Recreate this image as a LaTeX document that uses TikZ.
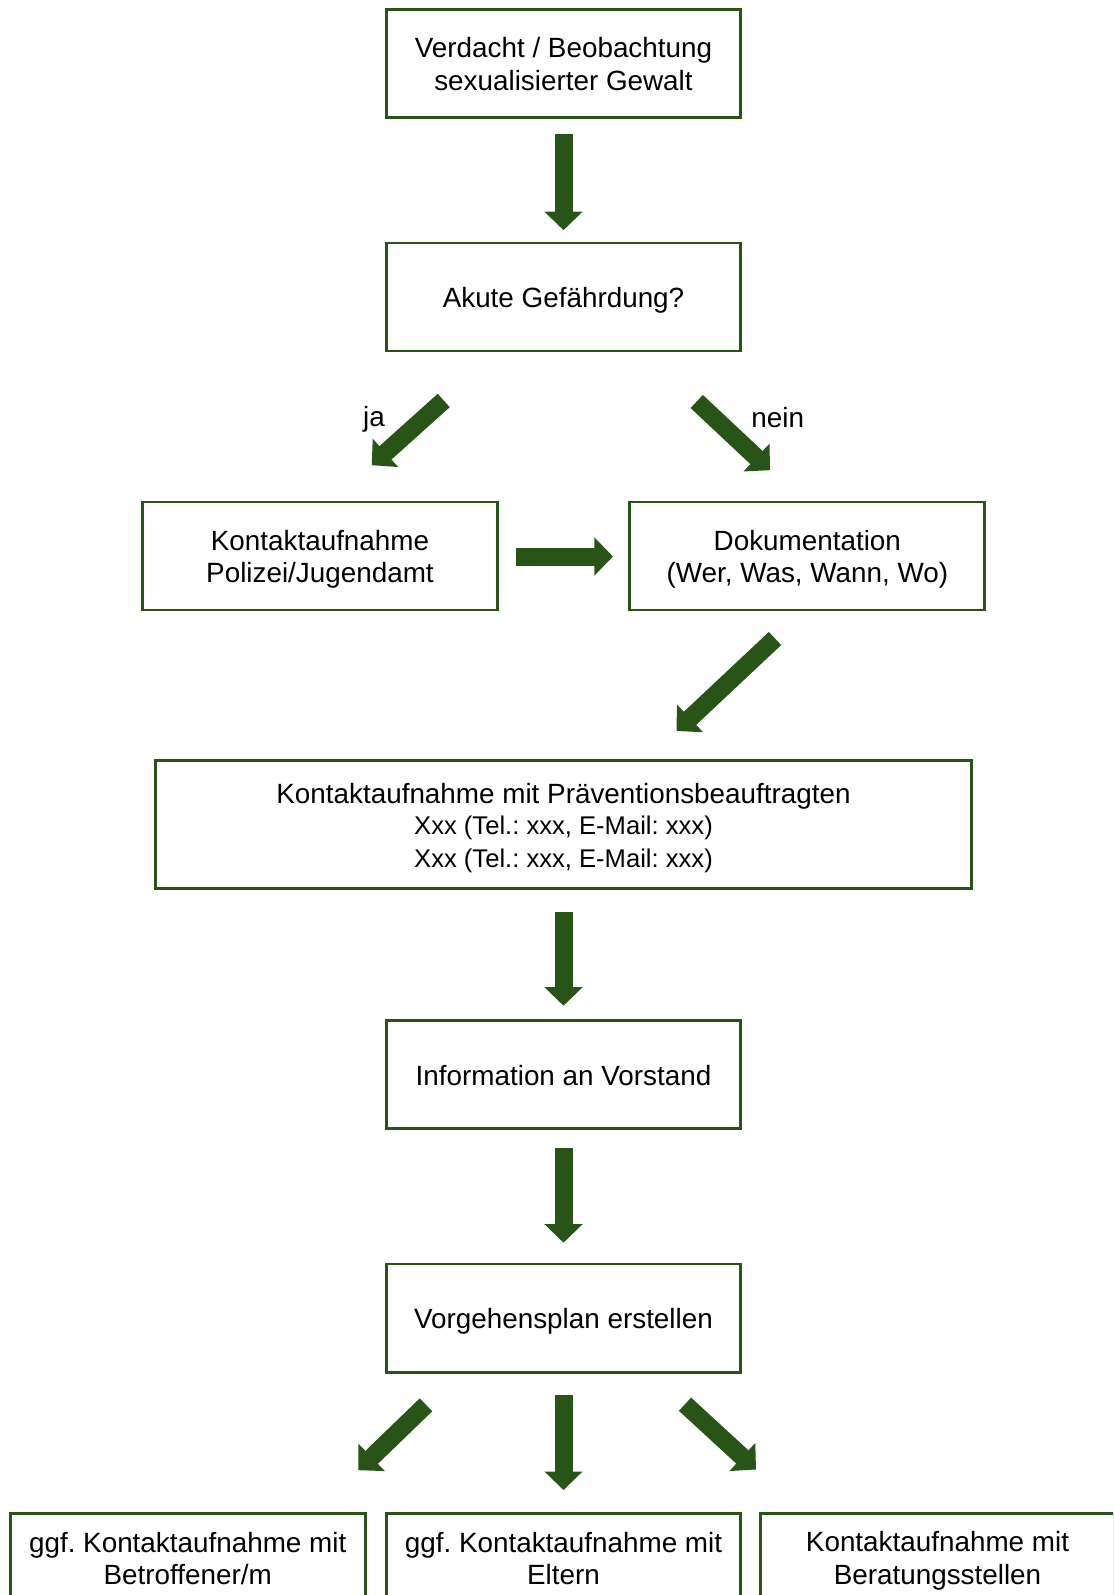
\documentclass[tikz,border=0pt]{standalone}
\usepackage{fontspec}
\setmainfont{Liberation Sans}
\usepackage{tikz}
\usetikzlibrary{arrows.meta, calc}
\definecolor{dunkelgruen}{RGB}{40,84,24}
\newcommand{\zeilenstrut}{\rule[-0.19em]{0pt}{1.14em}}
\newcommand{\festeabstaende}{\spaceskip=\fontdimen2\font\xspaceskip=\fontdimen2\font}
\newcommand{\kleiner}{\fontsize{18.2}{22.4}\selectfont\festeabstaende}
\frenchspacing

\begin{document}
\begin{tikzpicture}[line join=miter, x=0.025cm, y=-0.025cm,
  schrift/.style={font=\fontsize{19.8}{23}\selectfont},
  box/.style={schrift, draw=dunkelgruen, line width=2.1pt, fill=white,
    align=center, text width=8.5cm,
    minimum width=8.865cm, minimum height=2.7cm, inner sep=0pt,
    execute at begin node={\festeabstaende\zeilenstrut},
    execute at end node=\zeilenstrut},
  pfeil/.style={draw=dunkelgruen, line width=0.45cm,
    -{Triangle[width=0.925cm, length=0.4625cm]}}]
\useasboundingbox (0,0) rectangle (1113,1595);
\clip (0,0) rectangle (1113,1595);

% Kaesten
\node[box] (verdacht) at (563.5, 63.5) {Verdacht / Beobachtung\\sexualisierter Gewalt};
\node[box] (akut) at (563.5, 297) {Akute Gefährdung?};
\node[box] (polizei) at (320, 556) {Kontaktaufnahme\\Polizei/Jugendamt};
\node[box] (doku) at (807.3, 556) {Dokumentation\\(Wer, Was, Wann, Wo)};
\node[box, text width=20cm, minimum width=20.4cm, minimum height=3.2cm] (praev) at (563.5, 824.5)
  {Kontaktaufnahme mit Präventionsbeauftragten\\
   \kleiner Xxx (Tel.: xxx, E-Mail: xxx)\\Xxx (Tel.: xxx, E-Mail: xxx)};
\node[box] (vorstand) at (563.5, 1074.8) {Information an Vorstand};
\node[box] (plan) at (563.5, 1318) {Vorgehensplan erstellen};
\node[box, minimum height=2.215cm] (betroffen) at (187.7, 1557.6) {ggf. Kontaktaufnahme mit\\Betroffener/m};
\node[box, minimum height=2.215cm] (eltern) at (563.5, 1557.6) {ggf. Kontaktaufnahme mit\\Eltern};
\node[box, minimum height=2.215cm] (beratung) at (937.5, 1557.6) {Kontaktaufnahme mit\\Beratungsstellen};

\node[schrift] (ja) at (373.9, 419) {ja};
\node[schrift] (nein) at (777.8, 418) {nein};

% Pfeile
\draw[pfeil] ($(verdacht.south)+(0,15.5)$) -- ($(akut.north)+(0,-11.3)$);
\draw[pfeil] ($(akut.south)+(-119.8,48)$) -- ($(polizei.north)+(51.7,-35.3)$);
\draw[pfeil] ($(akut.south)+(133.2,49)$) -- ($(doku.north)+(-37.3,-30.3)$);
\draw[pfeil] ($(polizei.east)+(17.5,0.5)$) -- ($(doku.west)+(-15.5,0.5)$);
\draw[pfeil] ($(doku.south)+(-32.3,27)$) -- ($(praev.north)+(113,-28)$);
\draw[pfeil] ($(praev.south)+(0,22)$) -- ($(vorstand.north)+(0,-13.6)$);
\draw[pfeil] ($(vorstand.south)+(0,17.8)$) -- ($(plan.north)+(0,-19.8)$);
\draw[pfeil] ($(plan.south)+(-137.5,31.3)$) -- ($(betroffen.north)+(170.6,-41.6)$);
\draw[pfeil] ($(plan.south)+(0,21.8)$) -- ($(eltern.north)+(0,-21.8)$);
\draw[pfeil] ($(plan.south)+(121.5,30.7)$) -- ($(beratung.north)+(-181.5,-42.3)$);
\end{tikzpicture}
\end{document}
